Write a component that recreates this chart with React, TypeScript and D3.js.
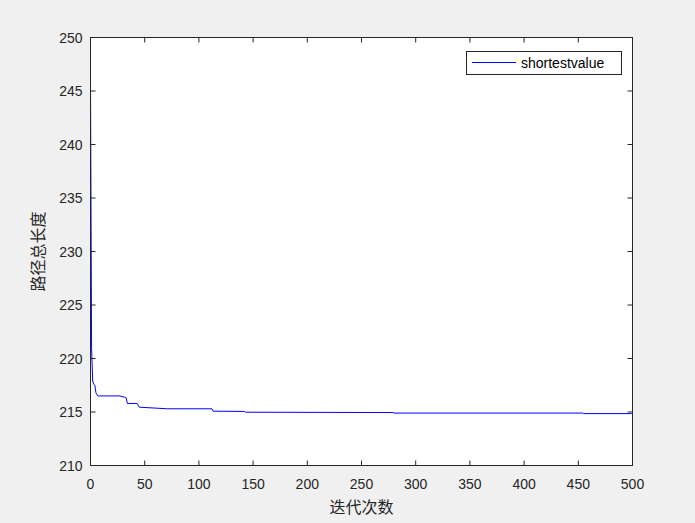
import React from "react";
import * as d3 from "d3";

const iterations = [0, 1, 2, 3, 4, 5, 6, 7, 27, 31, 33, 34, 43, 45, 71, 112, 113, 142, 143, 279, 280, 454, 455, 499, 500];
const values = [245.8, 221.0, 217.9, 217.6, 217.5, 216.8, 216.6, 216.5, 216.5, 216.4, 216.3, 215.8, 215.8, 215.45, 215.3, 215.3, 215.08, 215.05, 214.98, 214.95, 214.9, 214.9, 214.85, 214.85, 214.9];
const xTicks = [0, 50, 100, 150, 200, 250, 300, 350, 400, 450, 500];
const yTicks = [210, 215, 220, 225, 230, 235, 240, 245, 250];
const seriesName = "shortestvalue";
const xLabel = "迭代次数";
const yLabel = "路径总长度";

export default function App() {
  const W = 695, H = 523;
  const L = 90.5, R = 632.5, T = 37.5, B = 465.5;
  const x = d3.scaleLinear().domain([0, 500]).range([L, R]);
  const y = d3.scaleLinear().domain([210, 250]).range([B, T]);
  const pts = iterations.map((it, i) => [it, values[i]] as [number, number]);
  const line = d3.line<[number, number]>().x(d => x(d[0])).y(d => y(d[1]));
  const axisColor = "#262626";
  const font = "'Liberation Sans', Arial, sans-serif";
  const tick = 5;
  return (
    <svg width={W} height={H} style={{ position: "absolute", left: 0, top: 0, display: "block" }}>
      <rect x={0} y={0} width={W} height={H} fill="#f0f0f0" />
      <rect x={L} y={T} width={R - L} height={B - T} fill="#ffffff" />
      <path d={line(pts) || ""} fill="none" stroke="#0000ff" strokeWidth={1} />
      <rect x={L} y={T} width={R - L} height={B - T} fill="none" stroke={axisColor} strokeWidth={1} />
      {xTicks.map(t => (
        <g key={"x" + t}>
          <line x1={x(t)} x2={x(t)} y1={B} y2={B - tick} stroke={axisColor} />
          <line x1={x(t)} x2={x(t)} y1={T} y2={T + tick} stroke={axisColor} />
          <text x={x(t)} y={B + 23} textAnchor="middle" fontFamily={font} fontSize={14} fill={axisColor}>{t}</text>
        </g>
      ))}
      {yTicks.map(t => (
        <g key={"y" + t}>
          <line x1={L} x2={L + tick} y1={y(t)} y2={y(t)} stroke={axisColor} />
          <line x1={R} x2={R - tick} y1={y(t)} y2={y(t)} stroke={axisColor} />
          <text x={L - 8} y={y(t) + 5} textAnchor="end" fontFamily={font} fontSize={14} fill={axisColor}>{t}</text>
        </g>
      ))}
      <text x={(L + R) / 2} y={513} textAnchor="middle" fontFamily="'Noto Sans CJK SC', sans-serif" fontSize={16} fill={axisColor}>{xLabel}</text>
      <text transform={`translate(44, ${(T + B) / 2}) rotate(-90)`} textAnchor="middle" fontFamily="'Noto Sans CJK SC', sans-serif" fontSize={16} fill={axisColor}>{yLabel}</text>
      <g>
        <rect x={466.5} y={51.5} width={155} height={23} fill="#ffffff" stroke={axisColor} strokeWidth={1} />
        <line x1={472} x2={516} y1={62.5} y2={62.5} stroke="#0000ff" strokeWidth={1} />
        <text x={521} y={68} fontFamily={font} fontSize={14} fill="#000000">{seriesName}</text>
      </g>
    </svg>
  );
}
